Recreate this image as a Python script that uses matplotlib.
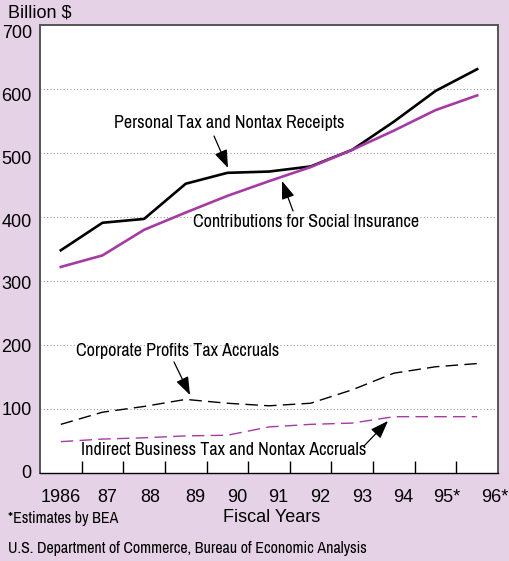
import matplotlib
matplotlib.use("Agg")
import matplotlib.pyplot as plt

# ---- data ----
year_labels = ["1986", "87", "88", "89", "90", "91", "92", "93", "94", "95*", "96*"]
personal = [348, 391, 397, 452, 469, 471, 479, 505, 549, 597, 631]
social = [322, 340, 380, 407, 433, 456, 478, 505, 535, 567, 590]
corporate = [76, 95, 104, 115, 109, 105, 109, 130, 156, 166, 171]
indirect = [49, 53, 55, 58, 59, 72, 76, 78, 88, 88, 88]
y_ticks = [0, 100, 200, 300, 400, 500, 600, 700]

BG = "#e6d2e6"
PURPLE = "#a53aa5"
NARROW = ["Archivo Narrow", "DejaVu Sans"]
REG = ["Liberation Sans", "DejaVu Sans"]

fig = plt.figure(figsize=(5.09, 5.61), dpi=100, facecolor=BG)
ax = fig.add_axes([40 / 509, 1 - 473 / 561, 458 / 509, 448 / 561])
ax.set_facecolor("white")

x = list(range(len(year_labels)))
ax.plot(x, personal, color="black", lw=1.9, solid_joinstyle="round")
ax.plot(x, social, color=PURPLE, lw=1.9, solid_joinstyle="round")
ax.plot(x, corporate, color="black", lw=1.0, dashes=(9, 4.5))
ax.plot(x, indirect, color=PURPLE, lw=1.0, dashes=(9, 4.5))

ax.set_xlim(-0.5, len(x) - 0.5)
ax.set_ylim(0, 700)

# gridlines
for v in y_ticks[1:-1]:
    ax.axhline(v, color="#888888", lw=0.8, linestyle=(0, (0.8, 2.2)), zorder=0)

# spines
for s in ["left", "top", "right"]:
    ax.spines[s].set_color("#555555")
    ax.spines[s].set_linewidth(1.4)
ax.spines["bottom"].set_color("black")
ax.spines["bottom"].set_linewidth(1.0)

# x ticks between years, inside
ax.set_xticks([i + 0.5 for i in x[:-1]])
ax.set_xticklabels([])
ax.tick_params(axis="x", direction="in", length=9, width=1.0, color="black")
ax.set_yticks([])

# x labels
lab_off = [0.0, 0.12, 0.14, 0.22, 0.23, 0.22, 0.22, 0.23, 0.22, 0.27, 0.43]
for i, lab in enumerate(year_labels):
    ax.text(i + lab_off[i], -0.055, lab, transform=ax.get_xaxis_transform(),
            ha="center", va="center", fontsize=13, family=REG)

# y labels
for v in y_ticks:
    ax.text(-0.018, v * 0.98, str(v), transform=ax.get_yaxis_transform(),
            ha="right", va="center", fontsize=13, family=REG)

fig.text(8 / 509, 1 - 13 / 561, "Billion $", ha="left", va="center",
         fontsize=13, family=REG)
fig.text(272 / 509, 1 - 518 / 561, "Fiscal Years", ha="center", va="center",
         fontsize=13, family=REG)
fig.text(8 / 509, 1 - 519 / 561, "*Estimates by BEA", ha="left", va="center",
         fontsize=11.5, family=NARROW)
fig.text(8 / 509, 1 - 548 / 561, "U.S. Department of Commerce, Bureau of Economic Analysis",
         ha="left", va="center", fontsize=11.5, family=NARROW)

# annotations
arrow = dict(arrowstyle="-|>,head_length=1.1,head_width=0.4", color="black",
             lw=0.9, shrinkA=0, shrinkB=0)


def px(xp, yp):
    return ((xp - 40) / 458 * 11 - 0.5, (473 - yp) / 0.64)


ax.text(*px(229, 123), "Personal Tax and Nontax Receipts", ha="center", va="center",
        fontsize=13, family=NARROW)
ax.annotate("", xy=px(228, 168), xytext=px(214, 136), arrowprops=arrow)

ax.text(*px(306, 222), "Contributions for Social Insurance", ha="center", va="center",
        fontsize=13, family=NARROW)
ax.annotate("", xy=px(282, 181), xytext=px(293, 211), arrowprops=arrow)

ax.text(*px(178, 351), "Corporate Profits Tax Accruals", ha="center", va="center",
        fontsize=13, family=NARROW)
ax.annotate("", xy=px(190, 395), xytext=px(174, 362), arrowprops=arrow)

ax.text(*px(224, 450), "Indirect Business Tax and Nontax Accruals", ha="center", va="center",
        fontsize=13, family=NARROW)
ax.annotate("", xy=px(388, 421), xytext=px(364, 446), arrowprops=arrow)

fig.savefig("out.png", dpi=100, facecolor=BG)
